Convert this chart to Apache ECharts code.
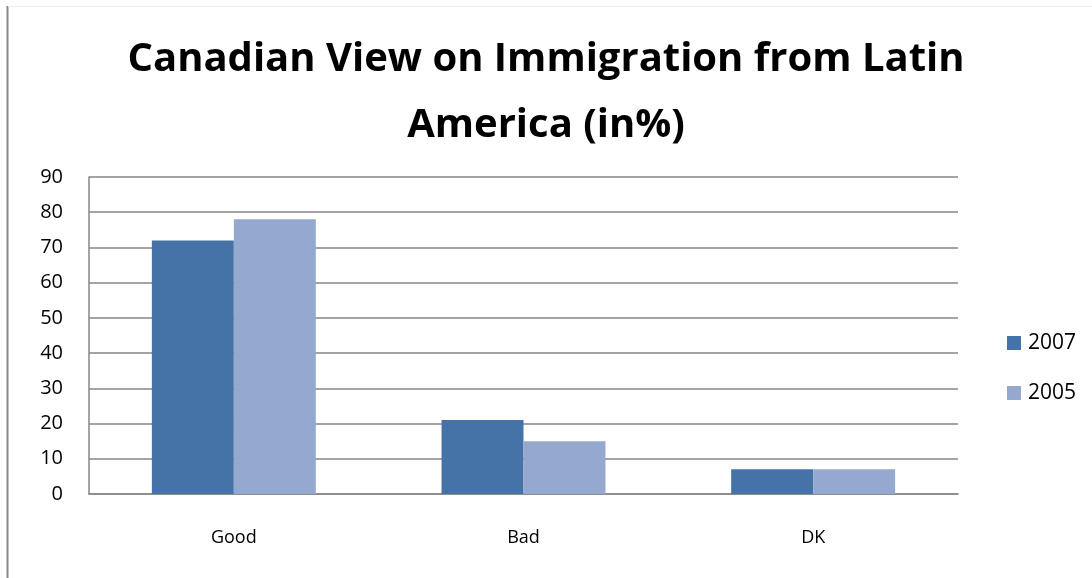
<!DOCTYPE html>
<html>
<head>
<meta charset="utf-8">
<style>
  html, body { margin: 0; padding: 0; background: #ffffff; }
  #chart { width: 1092px; height: 578px; }
</style>
<script src="https://cdn.jsdelivr.net/npm/echarts@6/dist/echarts.min.js"></script>
</head>
<body>
<div id="chart"></div>
<script>
// Survey answers and the share (in %) giving each answer per year
const categories = ['Good', 'Bad', 'DK'];
const seriesNames = ['2007', '2005'];
const values2007 = [72, 21, 7];
const values2005 = [78, 15, 7];
const yTicks = { min: 0, max: 90, interval: 10 };

const FONT = '"Open Sans", Lato, sans-serif';
const GRID_GRAY = '#868686';

const chart = echarts.init(document.getElementById('chart'), null, { renderer: 'canvas' });

chart.setOption({
  backgroundColor: '#ffffff',
  animation: false,
  title: {
    text: 'Canadian View on Immigration from Latin\nAmerica (in%)',
    left: 'center',
    top: 22,
    padding: [5, 0, 5, 20],
    textStyle: {
      fontFamily: FONT,
      fontWeight: 'bold',
      fontSize: 40,
      lineHeight: 66,
      color: '#000000'
    }
  },
  legend: {
    orient: 'vertical',
    left: 1002,
    top: 323,
    itemWidth: 14,
    itemHeight: 14,
    itemGap: 20,
    icon: 'rect',
    data: seriesNames,
    textStyle: { fontFamily: FONT, fontSize: 21, color: '#000000', padding: [0, 0, 0, 2], lineHeight: 30 }
  },
  grid: { left: 89, right: 134, top: 177, bottom: 84, containLabel: false },
  xAxis: {
    type: 'category',
    data: categories,
    axisLine: { show: true, lineStyle: { color: GRID_GRAY, width: 1.5 } },
    axisTick: { show: false },
    axisLabel: { fontFamily: FONT, fontSize: 18, color: '#000000', margin: 35 }
  },
  yAxis: {
    type: 'value',
    min: yTicks.min,
    max: yTicks.max,
    interval: yTicks.interval,
    axisLine: { show: true, lineStyle: { color: GRID_GRAY, width: 1.5 } },
    axisTick: { show: false },
    splitLine: { show: true, lineStyle: { color: GRID_GRAY, width: 1.5 } },
    axisLabel: { fontFamily: FONT, fontSize: 20, color: '#000000', margin: 26 }
  },
  series: [
    {
      name: seriesNames[0],
      type: 'bar',
      data: values2007,
      barGap: '0%',
      barCategoryGap: '43.4%',
      itemStyle: { color: '#4572A7' }
    },
    {
      name: seriesNames[1],
      type: 'bar',
      data: values2005,
      barGap: '0%',
      barCategoryGap: '43.4%',
      itemStyle: { color: '#95A9D0' }
    }
  ],
  graphic: [
    // outer frame: grey left edge and faint top edge
    { type: 'line', shape: { x1: 7.5, y1: 6, x2: 7.5, y2: 578 }, style: { stroke: '#888888', lineWidth: 2 } },
    { type: 'line', shape: { x1: 8, y1: 6.5, x2: 1092, y2: 6.5 }, style: { stroke: '#f0f0f0', lineWidth: 1 } }
  ]
});
</script>
</body>
</html>
